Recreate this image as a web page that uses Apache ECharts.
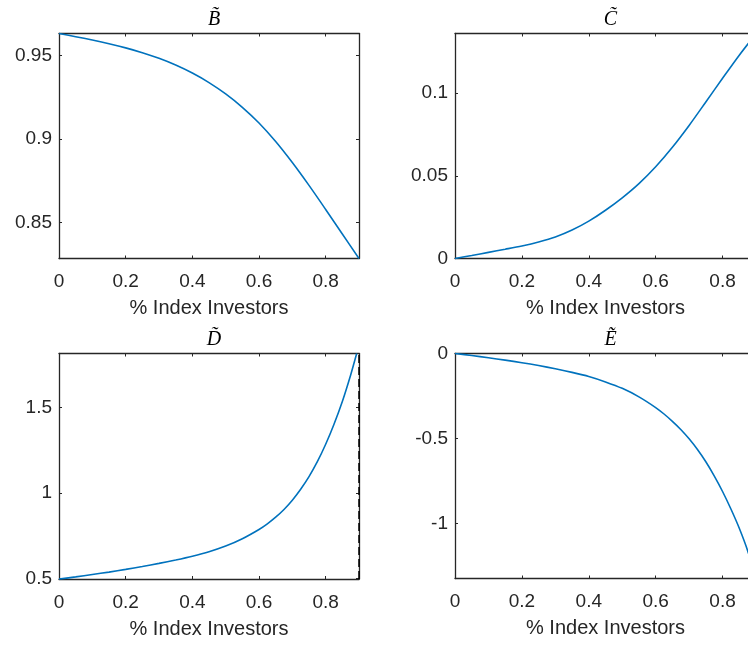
<!DOCTYPE html>
<html>
<head>
<meta charset="utf-8">
<script src="https://cdn.jsdelivr.net/npm/echarts@6/dist/echarts.min.js"></script>
<style>
  html, body { margin: 0; padding: 0; background: #fff; }
  #chart { width: 748px; height: 645px; }
</style>
</head>
<body>
<div id="chart"></div>
<script>
// Share of index investors (x) used by the B and C coefficient curves
const xShare = [0, 0.05, 0.1, 0.15, 0.2, 0.25, 0.3, 0.35, 0.4, 0.45, 0.5, 0.55, 0.6, 0.65, 0.7, 0.75, 0.8, 0.85, 0.9];
const bTilde = [0.9632, 0.9613, 0.9593, 0.9571, 0.9546, 0.9517, 0.9483, 0.9443, 0.9395, 0.9338, 0.9270, 0.9190, 0.9096, 0.8985, 0.8859, 0.8722, 0.8578, 0.8431, 0.8284];
const cTilde = [0, 0.0018, 0.0037, 0.0056, 0.0076, 0.0100, 0.0130, 0.0172, 0.0226, 0.0292, 0.0367, 0.0453, 0.0555, 0.0673, 0.0805, 0.0947, 0.1090, 0.1230, 0.1360];

// D and E steepen near the upper bound, so they are sampled more finely there
const xShareD = [0, 0.05, 0.1, 0.15, 0.2, 0.25, 0.3, 0.35, 0.4, 0.45, 0.5, 0.55, 0.6, 0.625, 0.65, 0.675, 0.7, 0.725, 0.75, 0.775, 0.8, 0.825, 0.85, 0.875, 0.893];
const dTilde = [0.497, 0.510, 0.524, 0.538, 0.554, 0.571, 0.589, 0.609, 0.631, 0.657, 0.690, 0.733, 0.787, 0.820, 0.859, 0.904, 0.958, 1.022, 1.096, 1.183, 1.285, 1.402, 1.535, 1.690, 1.815];
const dAsymptote = 0.9;

const xShareE = [0, 0.05, 0.1, 0.15, 0.2, 0.25, 0.3, 0.35, 0.4, 0.45, 0.5, 0.55, 0.6, 0.625, 0.65, 0.675, 0.7, 0.725, 0.75, 0.775, 0.8, 0.825, 0.85, 0.875, 0.9];
const eTilde = [0, -0.012, -0.025, -0.039, -0.054, -0.071, -0.090, -0.111, -0.135, -0.167, -0.205, -0.255, -0.318, -0.356, -0.399, -0.447, -0.502, -0.565, -0.637, -0.720, -0.812, -0.915, -1.028, -1.160, -1.324];

// Tick positions
const xTicks = [0, 0.2, 0.4, 0.6, 0.8];
const bTicks = [0.85, 0.9, 0.95];
const cTicks = [0, 0.05, 0.1];
const dTicks = [0.5, 1, 1.5];
const eTicks = [-1, -0.5, 0];

const titles = ['B\u0303', 'C\u0303', 'D\u0303', 'E\u0303'];
const xLabel = '% Index Investors';

const INK = '#262626';
const LINE = '#0072BD';
const sansFont = '"Liberation Sans", Arial, Helvetica, sans-serif';

const panels = [
  { grid: { left: 59, top: 33.5, width: 300, height: 225 }, x: xShare,  y: bTilde, ymin: 0.8284, ymax: 0.9632, yt: bTicks },
  { grid: { left: 455, top: 33.5, width: 301, height: 225 }, x: xShare,  y: cTilde, ymin: 0, ymax: 0.1361, yt: cTicks },
  { grid: { left: 59, top: 353.5, width: 300, height: 225.5 }, x: xShareD, y: dTilde, ymin: 0.4977, ymax: 1.815, yt: dTicks },
  { grid: { left: 455, top: 353.5, width: 301, height: 225 }, x: xShareE, y: eTilde, ymin: -1.324, ymax: 0, yt: eTicks }
];

const grid = [], xAxis = [], yAxis = [], series = [], title = [];

panels.forEach((p, i) => {
  // the right-hand panels run past the canvas edge, so keep the grid exactly where it is placed
  grid.push(Object.assign({ containLabel: false, outerBoundsMode: 'none' }, p.grid));

  title.push({
    text: titles[i],
    left: p.grid.left + p.grid.width / 2,
    top: p.grid.top - 29,
    textAlign: 'center',
    textStyle: { fontFamily: '"Liberation Serif", "Times New Roman", serif', fontStyle: 'italic', fontWeight: 'normal', fontSize: 20, color: '#000' }
  });

  const axisLine = { show: true, onZero: false, lineStyle: { color: INK, width: 1.3 } };
  const tick = { show: true, inside: true, length: 3, lineStyle: { color: INK, width: 1 } };

  // bottom x axis (labelled)
  xAxis.push({
    type: 'value', gridIndex: i, position: 'bottom', min: 0, max: 0.9,
    axisLine, splitLine: { show: false },
    axisTick: Object.assign({}, tick, { customValues: xTicks }),
    axisLabel: { customValues: xTicks, margin: 14, fontSize: 19, color: INK, fontFamily: sansFont },
    name: xLabel, nameLocation: 'middle', nameGap: 40,
    nameTextStyle: { fontSize: 20, color: INK, fontFamily: sansFont }
  });
  // top x axis (box edge, ticks only)
  xAxis.push({
    type: 'value', gridIndex: i, position: 'top', min: 0, max: 0.9,
    axisLine, splitLine: { show: false },
    axisTick: Object.assign({}, tick, { customValues: xTicks }),
    axisLabel: { show: false }
  });
  // left y axis (labelled)
  yAxis.push({
    type: 'value', gridIndex: i, position: 'left', min: p.ymin, max: p.ymax,
    axisLine, splitLine: { show: false },
    axisTick: Object.assign({}, tick, { customValues: p.yt }),
    axisLabel: { customValues: p.yt, margin: 7, fontSize: 19, color: INK, fontFamily: sansFont }
  });
  // right y axis (box edge, ticks only)
  yAxis.push({
    type: 'value', gridIndex: i, position: 'right', min: p.ymin, max: p.ymax,
    axisLine, splitLine: { show: false },
    axisTick: Object.assign({}, tick, { customValues: p.yt }),
    axisLabel: { show: false }
  });

  const s = {
    type: 'line',
    xAxisIndex: 2 * i,
    yAxisIndex: 2 * i,
    data: p.x.map((v, k) => [v, p.y[k]]),
    showSymbol: false,
    smooth: 0.3,
    lineStyle: { color: LINE, width: 1.6 },
    animation: false,
    z: 3
  };
  if (i === 2) {
    s.markLine = {
      silent: true,
      symbol: 'none',
      label: { show: false },
      lineStyle: { color: '#000', type: [8, 4], width: 1.5 },
      data: [{ xAxis: dAsymptote }]
    };
  }
  series.push(s);
});

const chart = echarts.init(document.getElementById('chart'), null, { renderer: 'canvas' });
chart.setOption({
  backgroundColor: '#fff',
  animation: false,
  title, grid, xAxis, yAxis, series
});
</script>
</body>
</html>
